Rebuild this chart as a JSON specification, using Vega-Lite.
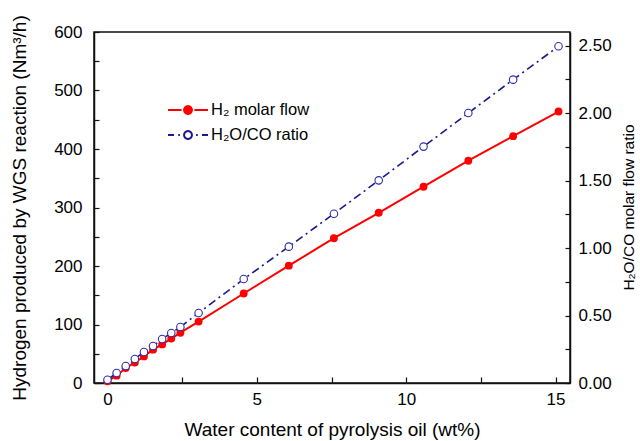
{
  "$schema": "https://vega.github.io/schema/vega-lite/v6.json",
  "width": 476,
  "height": 351,
  "autosize": "none",
  "padding": {"left": 94, "top": 32, "right": 70, "bottom": 58},
  "background": "white",
  "config": {
    "view": {"stroke": "#111111", "strokeWidth": 1.5},
    "axis": {
      "domainColor": "#111111",
      "domainWidth": 1.5,
      "tickColor": "#111111",
      "tickWidth": 1.2,
      "labelFont": "Liberation Sans",
      "labelFontSize": 17,
      "labelColor": "black",
      "titleFont": "Liberation Sans",
      "titleFontSize": 19,
      "titleFontWeight": "normal",
      "titleColor": "black",
      "grid": false
    }
  },
  "data": {
    "values": [
      {"w": 0, "h2": 3, "ratio": 0.024},
      {"w": 0.305, "h2": 12.5, "ratio": 0.074},
      {"w": 0.61, "h2": 25.6, "ratio": 0.126},
      {"w": 0.915, "h2": 35, "ratio": 0.178},
      {"w": 1.22, "h2": 45.5, "ratio": 0.23},
      {"w": 1.525, "h2": 57, "ratio": 0.274},
      {"w": 1.83, "h2": 66, "ratio": 0.326},
      {"w": 2.135, "h2": 76, "ratio": 0.37},
      {"w": 2.44, "h2": 86, "ratio": 0.415},
      {"w": 3.05, "h2": 105, "ratio": 0.519},
      {"w": 4.56, "h2": 153, "ratio": 0.77},
      {"w": 6.07, "h2": 200.6, "ratio": 1.01},
      {"w": 7.58, "h2": 247.5, "ratio": 1.254},
      {"w": 9.08, "h2": 291, "ratio": 1.501},
      {"w": 10.58, "h2": 335.5, "ratio": 1.751},
      {"w": 12.08, "h2": 380, "ratio": 2.0},
      {"w": 13.58, "h2": 422, "ratio": 2.247},
      {"w": 15.1, "h2": 464, "ratio": 2.494}
    ]
  },
  "encoding": {
    "x": {
      "field": "w",
      "type": "quantitative",
      "scale": {"domain": [-0.452, 15.484], "nice": false, "zero": false},
      "axis": {
        "title": "Water content of pyrolysis oil (wt%)",
        "values": [0, 2.5, 5, 7.5, 10, 12.5, 15],
        "labelExpr": "datum.value % 5 === 0 ? datum.label : ''",
        "tickSize": -6,
        "labelPadding": 14,
        "titlePadding": 13
      }
    }
  },
  "layer": [
    {
      "encoding": {
        "y": {
          "field": "h2",
          "type": "quantitative",
          "scale": {"domain": [0, 600], "nice": false},
          "axis": {
            "orient": "left",
            "title": "Hydrogen produced by WGS reaction (Nm³/h)",
            "values": [0, 50, 100, 150, 200, 250, 300, 350, 400, 450, 500, 550, 600],
            "labelExpr": "datum.value % 100 === 0 ? datum.label : ''",
            "tickSize": -5,
            "labelPadding": 17,
            "titlePadding": 24
          }
        }
      },
      "layer": [
        {
          "mark": {"type": "line", "strokeWidth": 2},
          "encoding": {
            "color": {
              "datum": "H₂ molar flow",
              "type": "nominal",
              "scale": {"domain": ["H₂ molar flow", "H₂O/CO ratio"], "range": ["#ff0000", "#1a1a8c"]},
              "legend": {
                "orient": "none",
                "legendX": 79,
                "legendY": 63,
                "title": null,
                "padding": 0,
                "symbolSize": 784,
                "symbolStrokeWidth": 2,
                "rowPadding": 1,
                "labelOffset": 8,
                "labelFont": "Liberation Sans",
                "labelFontSize": 16.5,
                "labelColor": "black",
                "encode": {
                  "symbols": {
                    "update": {
                      "shape": {"signal": "datum.index === 0 ? 'M-1.43,0H-0.46M0.46,0H1.43M-0.28,0A0.28,0.28 0 1,0 0.28,0A0.28,0.28 0 1,0 -0.28,0Z' : 'M-1.43,0H-1M-0.7,0H-0.58M0.58,0H0.7M1,0H1.43M-0.28,0A0.28,0.28 0 1,0 0.28,0A0.28,0.28 0 1,0 -0.28,0Z'"},
                      "fill": {"signal": "datum.index === 0 ? '#ff0000' : '#ffffff'"},
                      "fillOpacity": {"value": 1},
                      "strokeWidth": {"value": 2},
                      "strokeDash": {"value": [1, 0]}
                    }
                  }
                }
              }
            }
          }
        },
        {
          "mark": {"type": "circle", "color": "#ff0000", "size": 62, "opacity": 1}
        }
      ]
    },
    {
      "encoding": {
        "y": {
          "field": "ratio",
          "type": "quantitative",
          "scale": {"domain": [0, 2.6], "nice": false},
          "axis": {
            "orient": "right",
            "title": "H₂O/CO molar flow ratio",
            "titleFontSize": 15.5,
            "titleAngle": 270,
            "titleBaseline": "top",
            "titleY": 175,
            "values": [0, 0.25, 0.5, 0.75, 1, 1.25, 1.5, 1.75, 2, 2.25, 2.5],
            "format": ".2f",
            "labelExpr": "(round(datum.value * 100) % 50 === 0) ? datum.label : ''",
            "tickSize": -5,
            "labelPadding": 13,
            "titlePadding": 10
          }
        }
      },
      "layer": [
        {
          "mark": {"type": "line", "strokeWidth": 1.6, "strokeDash": [8, 4, 2, 4]},
          "encoding": {
            "color": {"datum": "H₂O/CO ratio", "type": "nominal"}
          }
        },
        {
          "mark": {"type": "circle", "fill": "#ffffff", "stroke": "#2b2bb0", "strokeWidth": 1.1, "size": 56, "opacity": 1}
        }
      ]
    }
  ],
  "resolve": {"scale": {"y": "independent"}}
}
